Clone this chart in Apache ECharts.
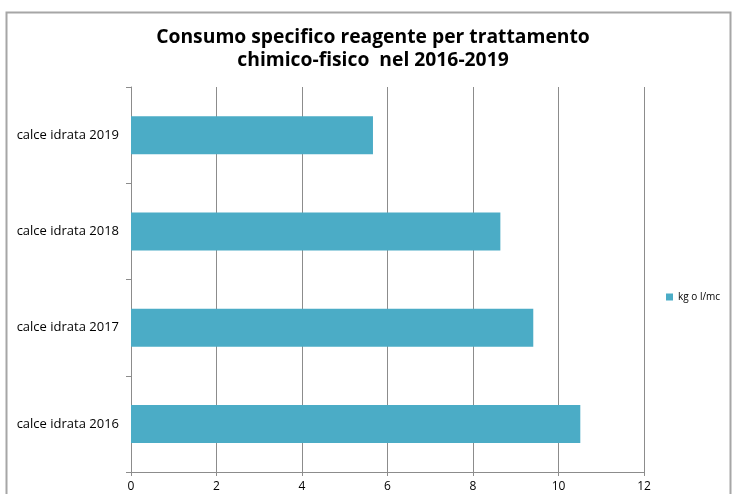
<!DOCTYPE html>
<html>
<head>
<meta charset="utf-8">
<title>Consumo specifico reagente</title>
<script src="https://cdn.jsdelivr.net/npm/echarts@6/dist/echarts.min.js"></script>
<style>
  html, body { margin: 0; padding: 0; background: #fff; }
  #chart { width: 733px; height: 494px; }
</style>
</head>
<body>
<div id="chart"></div>
<script>
// dati del grafico
var categorie = ['calce idrata 2016', 'calce idrata 2017', 'calce idrata 2018', 'calce idrata 2019'];
var valori = [10.51, 9.41, 8.64, 5.66];
var nomeSerie = 'kg o l/mc';
var titolo = 'Consumo specifico reagente per trattamento\nchimico-fisico  nel 2016-2019';

var myChart = echarts.init(document.getElementById('chart'));
var option = {
  backgroundColor: '#fff',
  animation: false,
  graphic: [{
    type: 'rect',
    shape: { x: 6.5, y: 12.5, width: 724, height: 500 },
    style: { fill: 'none', stroke: '#a6a6a6', lineWidth: 2 },
    silent: true
  }],
  title: {
    text: titolo,
    left: 368,
    top: 21,
    textAlign: 'center',
    textStyle: {
      fontFamily: 'Open Sans',
      fontWeight: 'bold',
      fontSize: 19.3,
      lineHeight: 23,
      color: '#000'
    }
  },
  legend: {
    data: [nomeSerie],
    left: 661,
    top: 287,
    orient: 'vertical',
    itemWidth: 7,
    itemHeight: 7,
    itemGap: 4,
    icon: 'rect',
    textStyle: { fontFamily: 'Open Sans', fontSize: 10, color: '#000' }
  },
  grid: { left: 131, right: 89, top: 87, bottom: 22, containLabel: false },
  xAxis: {
    type: 'value',
    min: 0,
    max: 12,
    interval: 2,
    axisLine: { show: true, lineStyle: { color: '#8c8c8c', width: 1 } },
    axisTick: { show: true, length: 4, lineStyle: { color: '#8c8c8c' } },
    axisLabel: { fontFamily: 'Open Sans', fontSize: 12, color: '#000', margin: 9 },
    splitLine: { show: true, lineStyle: { color: '#8c8c8c', width: 1 } }
  },
  yAxis: {
    type: 'category',
    data: categorie,
    axisLine: { show: true, lineStyle: { color: '#8c8c8c', width: 1 } },
    axisTick: { show: true, length: 5, alignWithLabel: false, lineStyle: { color: '#8c8c8c' } },
    axisLabel: { fontFamily: 'Open Sans', fontSize: 13, color: '#000', margin: 12 },
    splitLine: { show: false }
  },
  series: [{
    name: nomeSerie,
    type: 'bar',
    data: valori,
    barWidth: 38,
    itemStyle: { color: '#4bacc6' }
  }]
};
myChart.setOption(option);
</script>
</body>
</html>
